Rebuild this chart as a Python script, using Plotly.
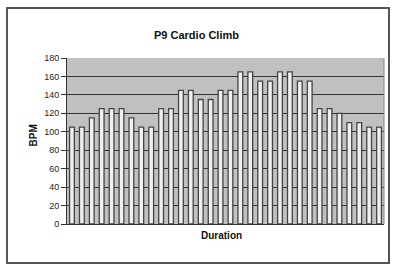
import plotly.graph_objects as go

segments = list(range(1, 33))
bpm = [105, 105, 115, 125, 125, 125, 115, 105, 105, 125, 125, 145, 145, 135, 135, 145,
       145, 165, 165, 155, 155, 165, 165, 155, 155, 125, 125, 120, 110, 110, 105, 105]
y_ticks = [0, 20, 40, 60, 80, 100, 120, 140, 160, 180]

title_text = "P9 Cardio Climb"
x_title = "Duration"
y_title = "BPM"

W, H = 393, 265
L, R, T, B = 67, 9, 58, 41
pw, ph = W - L - R, H - T - B

def px(x):
    return (x - L) / pw

def py(y):
    return (H - B - y) / ph

fig = go.Figure()
fig.add_trace(go.Bar(
    x=segments, y=bpm,
    width=0.48,
    marker=dict(color="#f0f0f0", line=dict(color="#444", width=1.3)),
    hoverinfo="skip",
))

fig.update_layout(
    width=W, height=H,
    margin=dict(l=L, r=R, t=T, b=B),
    paper_bgcolor="white",
    plot_bgcolor="#c0c0c0",
    showlegend=False,
    font=dict(family="Liberation Sans, Arial, sans-serif", size=9, color="#222"),
    xaxis=dict(
        range=[0.5, 32.5], showticklabels=False, ticks="", showgrid=False,
        zeroline=False, showline=True, linecolor="#333", linewidth=1, mirror=False,
    ),
    yaxis=dict(
        range=[0, 180], tickvals=y_ticks, ticks="outside", ticklen=5, tickcolor="#333",
        showgrid=True, gridcolor="#333", gridwidth=1.2, zeroline=False,
        showline=True, linecolor="#333", linewidth=1,
        tickfont=dict(size=9, color="#222"),
    ),
    shapes=[
        dict(type="rect", xref="paper", yref="paper",
             x0=px(7), x1=px(389), y0=py(263), y1=py(8),
             line=dict(color="#555", width=2), fillcolor="rgba(0,0,0,0)", layer="below"),
        dict(type="line", xref="paper", yref="paper", x0=1, x1=1, y0=0, y1=1,
             line=dict(color="#888", width=1)),
    ],
    annotations=[
        dict(text="<b>" + title_text + "</b>", xref="paper", yref="paper",
             x=px(196), y=py(27), showarrow=False, font=dict(size=11, color="#111")),
        dict(text="<b>" + x_title + "</b>", xref="paper", yref="paper",
             x=px(221), y=py(243), showarrow=False, font=dict(size=10, color="#111")),
        dict(text="<b>" + y_title + "</b>", xref="paper", yref="paper",
             x=px(25), y=py(136), showarrow=False, textangle=-90,
             font=dict(size=10, color="#111")),
    ],
)

fig.write_html("out.html")
